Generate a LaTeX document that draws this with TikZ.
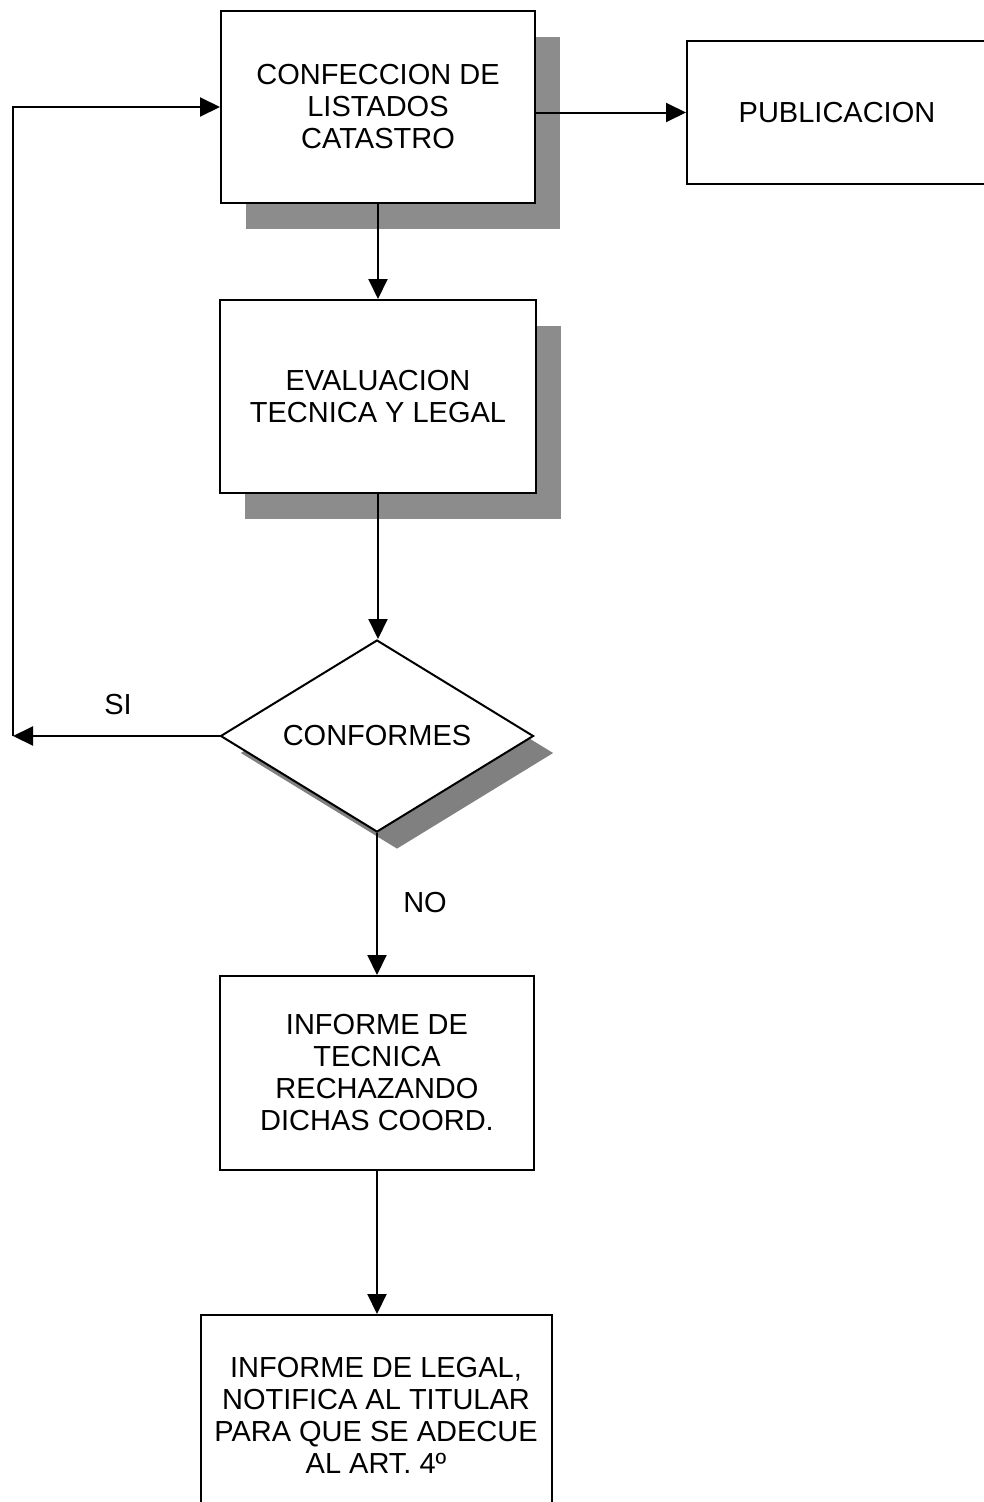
\documentclass[tikz,border=0pt]{standalone}
\usepackage{fontspec}
\setmainfont{Liberation Sans}
\usetikzlibrary{arrows.meta,shapes.geometric,shadows}
\begin{document}
\begin{tikzpicture}[x=1pt,y=-1pt,
  every node/.style={font=\fontsize{29}{32}\selectfont, align=center},
  procbox/.style={draw, line width=2pt, fill=white, inner sep=0pt},
  shade/.style={drop shadow={shadow xshift=25pt, shadow yshift=-26pt, fill=black!45, opacity=1}},
  decision/.style={draw, diamond, line width=2pt, fill=white, inner sep=0pt,
    minimum width=313pt, minimum height=192pt, aspect=1.63,
    drop shadow={shadow xshift=20pt, shadow yshift=-17pt, fill=black!50, opacity=1}},
  arr/.style={line width=2pt, -{Triangle[length=20pt,width=19pt]}}]
\fill[white] (0,0) rectangle (984,1502);
\clip (0,0) rectangle (984,1502);

% process boxes
\node[procbox, shade, minimum width=314pt, minimum height=192pt] (b1) at (378,107)
  {CONFECCION DE\\LISTADOS\\CATASTRO};
\node[procbox, minimum width=300pt, minimum height=143pt] (pub) at (837,112.5) {PUBLICACION};
\node[procbox, shade, minimum width=316pt, minimum height=193pt] (b2) at (378,396.5)
  {EVALUACION\\TECNICA Y LEGAL};
\node[decision] (dia) at (377,736) {};
\node at (dia.center) {CONFORMES};
\node[procbox, minimum width=314pt, minimum height=194pt] (b3) at (377,1073)
  {INFORME DE\\TECNICA\\RECHAZANDO\\DICHAS COORD.};
\node[procbox, minimum width=351pt, minimum height=200pt] (b4) at (376,1415)
  {INFORME DE LEGAL,\\NOTIFICA AL TITULAR\\PARA QUE SE ADECUE\\AL ART. 4º};

% branch labels
\node (si) at (118,705) {SI};
\node (no) at (425,903) {NO};

% connectors
\coordinate (loop) at (13,736);
\draw[arr] (b1.east |- pub.west) -- (pub.west);
\draw[arr] (b1.south) -- (b2.north);
\draw[arr] (b2.south) -- (b2.south |- dia.north);
\draw[arr] (dia.west) -- (loop);
\draw[arr] (loop) -- (loop |- b1.west) -- (b1.west);
\draw[arr] (dia.south) -- (b3.north);
\draw[arr] (b3.south) -- (b3.south |- b4.north);
\end{tikzpicture}
\end{document}
